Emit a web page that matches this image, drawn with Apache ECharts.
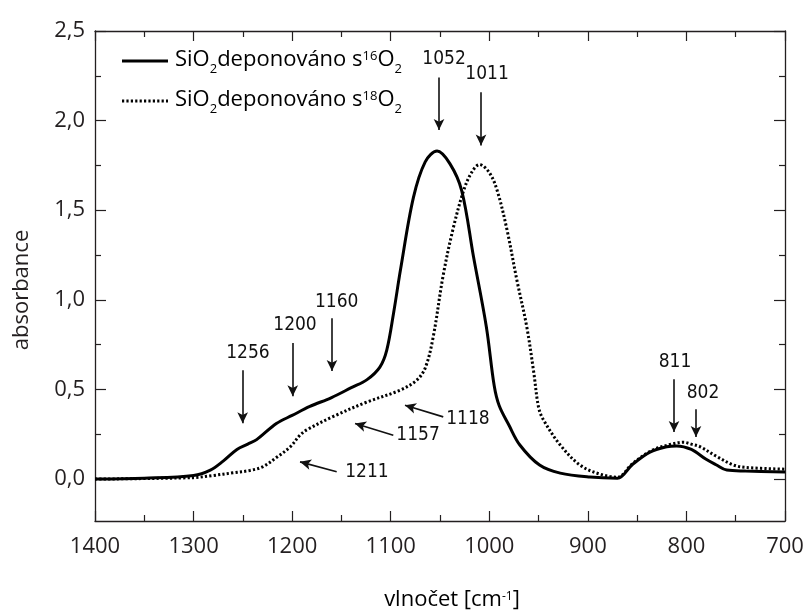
<!DOCTYPE html>
<html><head><meta charset="utf-8">
<script src="https://cdn.jsdelivr.net/npm/echarts@6/dist/echarts.min.js"></script>
<style>html,body{margin:0;padding:0;background:#fff}#c{width:812px;height:614px}</style>
</head><body><div id="c"></div>
<script>
// ---- data ----
const wn16 = [1400,1350,1300,1283,1270,1256,1245,1236,1216,1200,1182,1160,1140,1124,1111,1104,1097,1090,1077,1065,1053,1040,1028,1016,1003,995,990,980,969,949,928,898,870,855,837,820,810,795,780,770,759,740,700];
const abs16 = [0.0,0.005,0.02,0.05,0.10,0.165,0.195,0.22,0.31,0.355,0.405,0.455,0.51,0.555,0.625,0.72,0.93,1.17,1.57,1.77,1.83,1.76,1.61,1.24,0.85,0.52,0.41,0.30,0.19,0.078,0.033,0.011,0.005,0.08,0.15,0.18,0.185,0.165,0.11,0.08,0.05,0.045,0.04];
const wn18 = [1400,1300,1280,1260,1243,1230,1216,1202,1192,1185,1158,1124,1091,1074,1065,1057,1047,1037,1026,1018,1010,1000,992,982,972,962,955,950,945,928,908,888,870,855,835,815,803,795,786,769,752,740,700];
const abs18 = [0.0,0.008,0.02,0.035,0.048,0.068,0.12,0.18,0.245,0.275,0.35,0.43,0.495,0.55,0.62,0.79,1.13,1.39,1.61,1.71,1.755,1.71,1.61,1.39,1.11,0.85,0.6,0.40,0.33,0.19,0.078,0.028,0.01,0.085,0.16,0.195,0.205,0.195,0.18,0.125,0.078,0.065,0.055];
const yMajorTicks = [0,0.5,1.0,1.5,2.0,2.5];
const yMinorTicks = [0.25,0.75,1.25,1.75,2.25];
const seriesNames = ['SiO2 deponováno s 16O2','SiO2 deponováno s 18O2'];
// annotations (label, text position, arrow start, arrow end) in data coords
const annoLabels = ['1052','1011','1256','1200','1160','1157','1211','1118','811','802'];
const annoText = [[1045.9,2.345],[1002.3,2.262],[1244.8,0.702],[1197.1,0.858],[1154.8,0.988],[1072.3,0.245],[1124.1,0.041],[1021.6,0.335],[811.6,0.652],[783.2,0.479]];
const arrowFrom = [[1051.0,2.241],[1008.4,2.158],[1250.2,0.607],[1199.4,0.759],[1159.6,0.897],[1097.4,0.245],[1154.8,0.041],[1046.7,0.347],[812.6,0.557],[790.3,0.39]];
const arrowTo = [[1051.0,1.948],[1008.4,1.861],[1250.2,0.312],[1199.4,0.462],[1159.6,0.603],[1136.2,0.310],[1192.0,0.096],[1085.5,0.412],[812.6,0.262],[790.3,0.234]];

const FONT = 'Open Sans';
const INK = '#231f20';
const zip = (a,b)=>a.map((v,i)=>[v,b[i]]);

const chart = echarts.init(document.getElementById('c'), null, {renderer:'canvas'});
const yBase = {type:'value', min:-0.234, max:2.5, splitLine:{show:false}, axisLine:{show:true, onZero:false, lineStyle:{color:INK,width:1.3}}};
const xBase = {type:'value', min:700, max:1400, interval:100, inverse:true, splitLine:{show:false}, axisLine:{show:true, onZero:false, lineStyle:{color:INK,width:1.3}},
  axisTick:{inside:true,length:10,lineStyle:{color:INK,width:1.2}}, minorTick:{show:true,splitNumber:2,length:6,lineStyle:{color:INK,width:1.2}}};
const richLegend = {
  a:{fontFamily:FONT,fontSize:22,color:INK,lineHeight:32,verticalAlign:'middle'},
  s:{fontFamily:FONT,fontSize:13,color:INK,lineHeight:32,verticalAlign:'bottom'},
  p:{fontFamily:FONT,fontSize:13,color:INK,lineHeight:32,verticalAlign:'top',padding:[6,0,0,0]}
};

const option = {
  animation:false,
  grid:{left:95, right:27, top:31, bottom:93},
  xAxis:[
    Object.assign({}, xBase, {position:'bottom', axisLabel:{color:INK, fontFamily:FONT, fontSize:22, margin:15, formatter:v=>String(v)}}),
    Object.assign({}, xBase, {position:'top', axisLabel:{show:false}})
  ],
  yAxis:[
    Object.assign({}, yBase, {position:'left', axisTick:{inside:true,length:11,customValues:yMajorTicks,lineStyle:{color:INK,width:1.2}},
      axisLabel:{customValues:yMajorTicks, color:INK, fontFamily:FONT, fontSize:22, margin:10, formatter:v=>v.toFixed(1).replace('.',',')}}),
    Object.assign({}, yBase, {position:'left', axisLine:{show:false}, axisTick:{inside:true,length:6,customValues:yMinorTicks,lineStyle:{color:INK,width:1.2}}, axisLabel:{show:false}}),
    Object.assign({}, yBase, {position:'right', axisTick:{inside:true,length:11,customValues:yMajorTicks,lineStyle:{color:INK,width:1.2}}, axisLabel:{show:false}}),
    Object.assign({}, yBase, {position:'right', axisLine:{show:false}, axisTick:{inside:true,length:6,customValues:yMinorTicks,lineStyle:{color:INK,width:1.2}}, axisLabel:{show:false}})
  ],
  series:[
    {name:seriesNames[0], type:'line', data:zip(wn16,abs16), smooth:0.35, showSymbol:false, lineStyle:{color:'#000',width:3}, z:3},
    {name:seriesNames[1], type:'line', data:zip(wn18,abs18), smooth:0.35, showSymbol:false, lineStyle:{color:'#000',width:3,type:[2.2,2.2]}, z:2},
    {type:'scatter', data:annoLabels.map((t,i)=>({name:t, value:annoText[i]})), symbolSize:0, silent:true,
      itemStyle:{color:'#000',opacity:1},
      label:{show:true, position:'inside', formatter:p=>p.name, color:'#111', textBorderWidth:0, fontFamily:'DejaVu Sans Condensed', fontSize:19}},
    {type:'line', data:[], silent:true,
      markLine:{silent:true, symbol:['none','arrow'], symbolSize:[8,11], label:{show:false}, lineStyle:{color:'#111',width:1.6,type:'solid'},
        data:annoLabels.map((t,i)=>[{coord:arrowFrom[i]},{coord:arrowTo[i]}])}}
  ],
  graphic:[
    {type:'line', shape:{x1:122,y1:61,x2:168,y2:61}, style:{stroke:'#000',lineWidth:3}},
    {type:'line', shape:{x1:122,y1:101,x2:168,y2:101}, style:{stroke:'#000',lineWidth:3,lineDash:[2.2,2.2]}},
    {type:'text', left:175, top:44, style:{text:'{a|SiO}{s|2}{a|deponováno s}{p|16}{a|O}{s|2}', rich:richLegend}},
    {type:'text', left:175, top:84, style:{text:'{a|SiO}{s|2}{a|deponováno s}{p|18}{a|O}{s|2}', rich:richLegend}},
    {type:'text', x:452, y:600, style:{text:'{a|vlnočet [cm}{p|-1}{a|]}', align:'center', verticalAlign:'middle', rich:{
      a:{fontFamily:FONT,fontSize:22,color:INK,lineHeight:30,verticalAlign:'middle'},
      p:{fontFamily:FONT,fontSize:12,color:INK,lineHeight:30,verticalAlign:'top',padding:[6,0,0,0]}}}},
    {type:'text', x:22, y:290, rotation:Math.PI/2, style:{text:'absorbance', align:'center', verticalAlign:'middle', fontFamily:FONT, fontSize:22, fill:INK}}
  ]
};
chart.setOption(option);
</script></body></html>
